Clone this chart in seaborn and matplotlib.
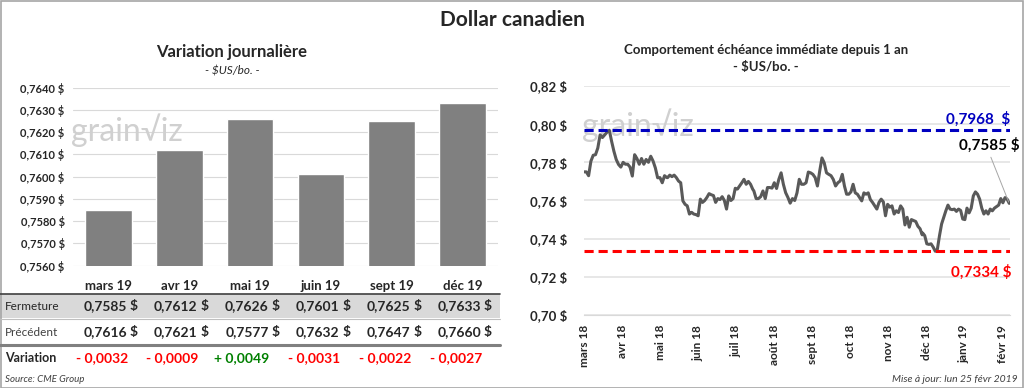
import numpy as np
import pandas as pd
import matplotlib
matplotlib.use('Agg')
import matplotlib.pyplot as plt
from matplotlib.patches import Rectangle
from matplotlib.lines import Line2D
import seaborn as sns

sns.set_style('white')
plt.rcParams['font.family'] = ['Lato', 'DejaVu Sans']

# Left panel - daily variation by contract
contracts = ['mars 19', 'avr 19', 'mai 19', 'juin 19', 'sept 19', 'déc 19']
fermeture = [0.7585, 0.7612, 0.7626, 0.7601, 0.7625, 0.7633]
precedent = [0.7616, 0.7621, 0.7577, 0.7632, 0.7647, 0.7660]
variation = [-0.0032, -0.0009, 0.0049, -0.0031, -0.0022, -0.0027]
bar_ticks = [0.7560, 0.7570, 0.7580, 0.7590, 0.7600, 0.7610, 0.7620, 0.7630, 0.7640]

# Right panel - front month over one year (by stretch)
month_labels = ['mars 18', 'avr 18', 'mai 18', 'juin 18', 'juil 18', 'août 18',
                'sept 18', 'oct 18', 'nov 18', 'déc 18', 'janv 19', 'févr 19']
seg_ranges = [(0.0, 2.18), (2.20, 4.44), (4.47, 6.68), (6.74, 8.90), (8.91, 11.19)]
seg1 = [0.775, 0.775, 0.773, 0.7806, 0.7837, 0.784, 0.7875, 0.7944, 0.793, 0.7944,
        0.7958, 0.7968, 0.791, 0.7858, 0.7815, 0.7789, 0.7775, 0.780, 0.779, 0.779,
        0.7775, 0.7728, 0.784, 0.782, 0.779, 0.782, 0.779, 0.7815, 0.780, 0.7832,
        0.7807, 0.7771, 0.7719, 0.772, 0.7693, 0.773, 0.772]
seg2 = [0.772, 0.7733, 0.7725, 0.7733, 0.772, 0.7702, 0.7693, 0.7598, 0.758, 0.7572,
        0.7529, 0.7538, 0.7529, 0.7526, 0.752, 0.7607, 0.759, 0.760, 0.7616, 0.7636,
        0.763, 0.7626, 0.759, 0.761, 0.7605, 0.762, 0.760, 0.7555, 0.7624, 0.760,
        0.761, 0.7664, 0.766, 0.7676, 0.7693, 0.7711, 0.7685, 0.770, 0.7685, 0.7659]
seg3 = [0.765, 0.761, 0.761, 0.762, 0.765, 0.761, 0.7668, 0.7668, 0.7665, 0.7693,
        0.7663, 0.7711, 0.7745, 0.7685, 0.7641, 0.7616, 0.7586, 0.761, 0.760, 0.764,
        0.7711, 0.7685, 0.7685, 0.7693, 0.7749, 0.7745, 0.7737, 0.772, 0.7676, 0.7754,
        0.7823, 0.7797, 0.7745, 0.7737, 0.773, 0.771, 0.7676, 0.7693]
seg4 = [0.7702, 0.7737, 0.7676, 0.7633, 0.7633, 0.7645, 0.7685, 0.764, 0.7633, 0.7615,
        0.7598, 0.764, 0.7633, 0.764, 0.7605, 0.759, 0.7572, 0.7555, 0.759, 0.7607,
        0.7593, 0.752, 0.758, 0.7565, 0.7572, 0.7529, 0.7546, 0.7537, 0.7572, 0.7555,
        0.7472, 0.7512, 0.746, 0.750, 0.7495, 0.749, 0.7465, 0.7452, 0.742]
seg5 = [0.743, 0.7416, 0.7373, 0.737, 0.7373, 0.7356, 0.7334, 0.7345, 0.7416, 0.7477,
        0.7512, 0.7546, 0.7576, 0.7555, 0.7552, 0.7555, 0.7543, 0.7555, 0.7548, 0.7503,
        0.750, 0.756, 0.7535, 0.756, 0.7624, 0.7645, 0.7633, 0.7607, 0.756, 0.7529,
        0.7546, 0.7529, 0.7555, 0.7546, 0.756, 0.7568, 0.7576, 0.761, 0.7588, 0.7615,
        0.7607, 0.7585]
high_val = 0.7968
low_val = 0.7334
line_ticks = [0.70, 0.72, 0.74, 0.76, 0.78, 0.80, 0.82]


def fr(v, dec):
    return f"{v:.{dec}f}".replace('.', ',')


W, H = 1024, 388
fig = plt.figure(figsize=(W / 100, H / 100), dpi=100)


def px_box(x0, y0, x1, y1):
    # pixel box (top-left origin) to figure fraction rect
    return [x0 / W, 1 - y1 / H, (x1 - x0) / W, (y1 - y0) / H]


# ---------------- left: bars ----------------
ax1 = fig.add_axes(px_box(73, 87.7, 498, 265.7))
bar_df = pd.DataFrame({'contrat': contracts, 'fermeture': fermeture})
sns.barplot(data=bar_df, x='contrat', y='fermeture', color='#808080',
            saturation=1, width=0.66, ax=ax1, zorder=3)
ax1.set_ylim(bar_ticks[0], bar_ticks[-1])
ax1.set_xlim(-0.5, len(contracts) - 0.5)
ax1.set_yticks(bar_ticks)
ax1.set_yticklabels([fr(t, 4) + ' $' for t in bar_ticks], fontsize=8, fontweight='bold')
ax1.set_xticks(range(len(contracts)))
ax1.set_xticklabels(contracts, fontsize=9.5, fontweight='bold')
ax1.tick_params(axis='both', length=0)
ax1.tick_params(axis='x', pad=10)
ax1.tick_params(axis='y', pad=6)
ax1.set_xlabel('')
ax1.set_ylabel('')
ax1.grid(axis='y', color='#D9D9D9', lw=0.8, zorder=0)
sns.despine(ax=ax1, left=True, bottom=True)
ax1.text(-0.005, 0.76, 'grain\u221Aiz', transform=ax1.transAxes, fontsize=23,
         color='#D0D0D0', ha='left', va='center', zorder=1)

fig.text(232 / W, 1 - 52 / H, 'Variation journalière', ha='center', va='center',
         fontsize=12, fontweight='bold')
fig.text(232 / W, 1 - 71 / H, '- $US/bo. -', ha='center', va='center',
         fontsize=8.5, style='italic')

# table under bars
fig.patches.append(Rectangle((0, 1 - 318 / H), 500 / W, 24 / H, transform=fig.transFigure,
                             facecolor='#D9D9D9', edgecolor='none', zorder=-1))
fig.lines.append(Line2D([0, 500 / W], [1 - 294 / H] * 2, transform=fig.transFigure,
                        color='#404040', lw=1.2))
fig.lines.append(Line2D([0, 500 / W], [1 - 319 / H] * 2, transform=fig.transFigure,
                        color='#BFBFBF', lw=0.8))
fig.lines.append(Line2D([0, 500 / W], [1 - 345 / H] * 2, transform=fig.transFigure,
                        color='#808080', lw=2.2))

fig.text(5 / W, 1 - 306 / H, 'Fermeture', ha='left', va='center', fontsize=8.5, color='#262626')
fig.text(5 / W, 1 - 332 / H, 'Précédent', ha='left', va='center', fontsize=8.5, color='#404040')
fig.text(5 / W, 1 - 358 / H, 'Variation', ha='left', va='center', fontsize=9, fontweight='bold')

cell_w = (498 - 73) / len(contracts)
for i in range(len(contracts)):
    right = 73 + cell_w * (i + 1)
    for row_y, val in [(306, fermeture[i]), (332, precedent[i])]:
        fig.text((right - 17) / W, 1 - row_y / H, fr(val, 4), ha='right', va='center',
                 fontsize=10, fontweight='bold')
        fig.text((right - 6) / W, 1 - row_y / H, '$', ha='right', va='center',
                 fontsize=10, fontweight='bold')
    v = variation[i]
    sign = '+ ' if v > 0 else '- '
    fig.text((right - 16) / W, 1 - 358 / H, sign + fr(abs(v), 4), ha='right', va='center',
             fontsize=10, fontweight='bold', color='#008000' if v > 0 else '#FF0000')

fig.text(5 / W, 1 - 380 / H, 'Source: CME Group', ha='left', va='center',
         fontsize=7, style='italic', color='#404040')

# ---------------- right: line ----------------
ax2 = fig.add_axes(px_box(584, 86, 1010, 315))
xs, ys = [], []
for (a, b), seg in zip(seg_ranges, [seg1, seg2, seg3, seg4, seg5]):
    xs.extend(np.linspace(a, b, len(seg)))
    ys.extend(seg)
line_df = pd.DataFrame({'mois': xs, 'prix': ys})
sns.lineplot(data=line_df, x='mois', y='prix', color='#595959', lw=2.2, ax=ax2, zorder=3)
ax2.set_xlim(0, 11.21)
ax2.set_ylim(line_ticks[0], line_ticks[-1])
ax2.set_yticks(line_ticks)
ax2.set_yticklabels([fr(t, 2) + ' $' for t in line_ticks], fontsize=9.5, fontweight='bold')
ax2.set_xticks(range(len(month_labels)))
ax2.set_xticklabels(month_labels, rotation=90, fontsize=8.5, fontweight='bold')
ax2.tick_params(axis='y', length=0, pad=12)
ax2.tick_params(axis='x', length=4, color='#BFBFBF', direction='out', pad=3)
ax2.set_xlabel('')
ax2.set_ylabel('')
ax2.grid(axis='y', color='#E3E3E3', lw=1.2, zorder=0)
sns.despine(ax=ax2, left=True)
ax2.spines['bottom'].set_color('#D9D9D9')
ax2.text(-0.005, 0.83, 'grain\u221Aiz', transform=ax2.transAxes, fontsize=23,
         color='#D0D0D0', ha='left', va='center', zorder=1)

ax2.axhline(high_val, color='#0000C0', lw=2.2, ls=(0, (3, 1.6)), zorder=4)
ax2.axhline(low_val, color='#FF0000', lw=2.2, ls=(0, (3, 1.6)), zorder=4)
ax2.annotate(fr(high_val, 4) + '  $', xy=(1.0, high_val), xycoords=('axes fraction', 'data'),
             xytext=(0, 8), textcoords='offset points', ha='right', va='center',
             fontsize=11, fontweight='bold', color='#0000C0')
ax2.annotate(fr(low_val, 4) + ' $', xy=(1.0, low_val), xycoords=('axes fraction', 'data'),
             xytext=(1, -15), textcoords='offset points', ha='right', va='center',
             fontsize=11, fontweight='bold', color='#FF0000')
ax2.annotate(fr(seg5[-1], 4) + ' $', xy=(xs[-1], ys[-1]), xycoords='data',
             xytext=(1.022, 0.742), textcoords='axes fraction', ha='right', va='center',
             fontsize=11, fontweight='bold', color='black',
             arrowprops=dict(arrowstyle='-', color='#A6A6A6', lw=0.7, relpos=(0.5, 0),
                             shrinkA=1, shrinkB=1))

fig.text(766 / W, 1 - 50 / H, 'Comportement échéance immédiate depuis 1 an',
         ha='center', va='center', fontsize=9.5, fontweight='bold')
fig.text(766 / W, 1 - 67 / H, '- $US/bo. -', ha='center', va='center',
         fontsize=9.5, fontweight='bold')
fig.text(1018 / W, 1 - 379 / H, 'Mise à jour: lun 25 févr 2019', ha='right', va='center',
         fontsize=7.5, style='italic', color='#404040')

# main title and frame
fig.text(0.5, 1 - 20 / H, 'Dollar canadien', ha='center', va='center',
         fontsize=15, fontweight='bold')
fig.patches.append(Rectangle((0.5 / W, 0.5 / H), 1 - 1.5 / W, 1 - 1.5 / H,
                             transform=fig.transFigure, fill=False,
                             edgecolor='#A6A6A6', lw=1.2))

fig.savefig('out.png', dpi=100)
